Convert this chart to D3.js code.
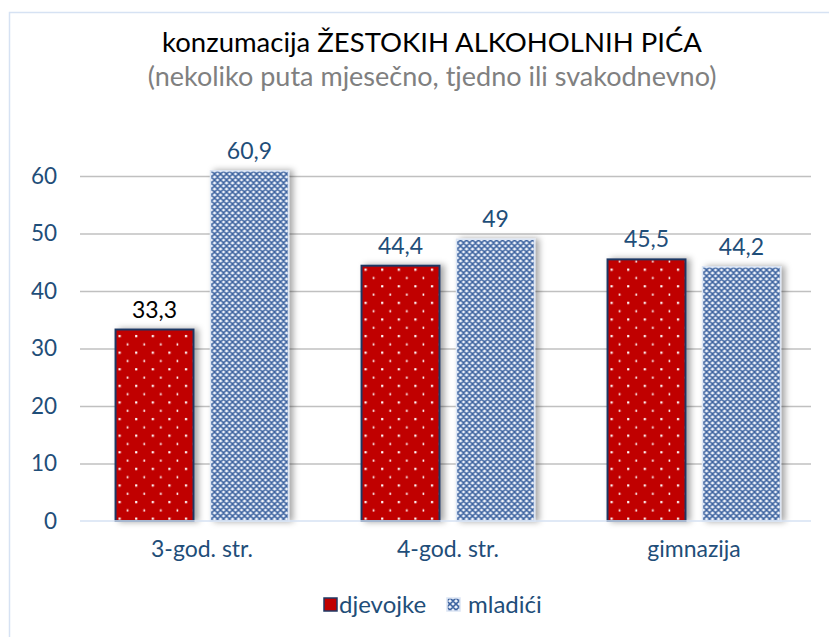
<!DOCTYPE html>
<html>
<head>
<meta charset="utf-8">
<script src="https://cdn.jsdelivr.net/npm/d3@7"></script>
<style>
  body { margin: 0; background: #fff; }
  text { font-family: Lato, "Open Sans", sans-serif; }
</style>
</head>
<body>
<script>
// data
const categories = ["3-god. str.", "4-god. str.", "gimnazija"];
const seriesNames = ["djevojke", "mladići"];
const djevojke = [33.3, 44.4, 45.5];
const mladici = [60.9, 49, 44.2];
const yTicks = [0, 10, 20, 30, 40, 50, 60];
const titleText = "konzumacija ŽESTOKIH ALKOHOLNIH PIĆA";
const subtitleText = "(nekoliko puta mjesečno, tjedno ili svakodnevno)";

const W = 829, H = 637;
const svg = d3.select("body").append("svg")
    .attr("width", W)
    .attr("height", H);

const defs = svg.append("defs");

// red with white dots
const pRed = defs.append("pattern")
    .attr("id", "dots")
    .attr("patternUnits", "userSpaceOnUse")
    .attr("width", 16.6).attr("height", 16.6);
pRed.append("rect").attr("width", 16.6).attr("height", 16.6).attr("fill", "#c00000");
pRed.append("rect").attr("x", 3).attr("y", 3).attr("width", 2.2).attr("height", 2.2).attr("fill", "#fff");
pRed.append("rect").attr("x", 11.3).attr("y", 11.3).attr("width", 1.6).attr("height", 2.2).attr("fill", "#fff");

// blue lattice
const pBlue = defs.append("pattern")
    .attr("id", "lattice")
    .attr("patternUnits", "userSpaceOnUse")
    .attr("width", 6).attr("height", 6);
pBlue.append("rect").attr("width", 6).attr("height", 6).attr("fill", "#eef2fa");
pBlue.append("path")
    .attr("d", "M0,3 L3,0 L6,3 L3,6 Z")
    .attr("fill", "none")
    .attr("stroke", "#3d63a0")
    .attr("stroke-width", 1.6);

// shadow
const f = defs.append("filter").attr("id", "shadow")
    .attr("x", "-20%").attr("y", "-10%").attr("width", "150%").attr("height", "120%");
f.append("feDropShadow")
    .attr("dx", 4).attr("dy", 0).attr("stdDeviation", 3)
    .attr("flood-color", "#000").attr("flood-opacity", 0.35);

// frame
svg.append("path")
    .attr("d", "M9.5," + H + " V12.5 H" + W)
    .attr("fill", "none")
    .attr("stroke", "#d6e2f3")
    .attr("stroke-width", 1.5);

// titles
svg.append("text")
    .attr("x", 432).attr("y", 52)
    .attr("text-anchor", "middle")
    .attr("font-size", 27.5)
    .attr("fill", "#000")
    .text(titleText);
svg.append("text")
    .attr("x", 432).attr("y", 86)
    .attr("text-anchor", "middle")
    .attr("font-size", 27)
    .attr("fill", "#808080")
    .text(subtitleText);

// scales
const x0 = d3.scaleBand().domain(categories).range([79, 817])
    .paddingInner(0.297).paddingOuter(0.1485);
const x1 = d3.scaleBand().domain(seriesNames).range([0, x0.bandwidth()])
    .paddingInner(0.179);
const y = d3.scaleLinear().domain([0, 60]).range([521, 176]);

// gridlines
svg.append("g")
    .attr("class", "grid")
    .attr("transform", "translate(80,0)")
    .call(d3.axisLeft(y).tickValues(yTicks.slice(1)).tickSize(-731).tickFormat(""))
    .call(g => g.select(".domain").remove())
    .call(g => g.selectAll("line").attr("stroke", "#c0c0c0").attr("stroke-width", 1.5));

// y tick labels
svg.append("g")
    .attr("transform", "translate(57,0)")
    .call(d3.axisLeft(y).tickValues(yTicks).tickSize(0).tickPadding(0))
    .call(g => g.select(".domain").remove())
    .call(g => g.selectAll("text")
        .attr("font-size", 22.5)
        .attr("fill", "#1f4e79")
        .attr("font-family", "Lato, sans-serif"));

// bars
const rows = categories.map((c, i) => ({ cat: c, vals: [djevojke[i], mladici[i]] }));
const groups = svg.append("g").selectAll("g")
    .data(rows)
    .join("g")
    .attr("transform", d => "translate(" + x0(d.cat) + ",0)");

groups.selectAll("rect")
    .data(d => d.vals.map((v, j) => ({ s: seriesNames[j], v: v })))
    .join("rect")
    .attr("x", d => x1(d.s))
    .attr("y", d => y(d.v))
    .attr("width", x1.bandwidth())
    .attr("height", d => y(0) - y(d.v))
    .attr("fill", d => d.s === "djevojke" ? "url(#dots)" : "url(#lattice)")
    .attr("stroke", d => d.s === "djevojke" ? "#1f3864" : "#dbe5f4")
    .attr("stroke-width", d => d.s === "djevojke" ? 2 : 1.5)
    .attr("filter", "url(#shadow)");

// value labels
groups.selectAll("text.val")
    .data(d => d.vals.map((v, j) => ({ s: seriesNames[j], v: v, first: d.cat === categories[0] && j === 0 })))
    .join("text")
    .attr("class", "val")
    .attr("x", d => x1(d.s) + x1.bandwidth() / 2)
    .attr("y", d => y(d.v) - 12)
    .attr("text-anchor", "middle")
    .attr("font-size", 23)
    .attr("fill", d => d.first ? "#000" : "#1f4e79")
    .text(d => String(d.v).replace(".", ","));

// x axis line
svg.append("line")
    .attr("x1", 80).attr("x2", 811)
    .attr("y1", y(0)).attr("y2", y(0))
    .attr("stroke", "#d6e2f3")
    .attr("stroke-width", 1.5);

// x labels
svg.append("g")
    .attr("transform", "translate(0," + y(0) + ")")
    .call(d3.axisBottom(x0).tickSize(0).tickPadding(20))
    .call(g => g.select(".domain").remove())
    .call(g => g.selectAll("text")
        .attr("font-size", 23)
        .attr("fill", "#1f4e79")
        .attr("font-family", "Lato, sans-serif"));

// legend
const legendX = [324, 447];
const legend = svg.append("g").selectAll("g")
    .data(seriesNames)
    .join("g")
    .attr("transform", (d, i) => "translate(" + legendX[i] + ",598)");
legend.append("rect")
    .attr("width", 13).attr("height", 13)
    .attr("fill", (d, i) => i === 0 ? "#c00000" : "url(#lattice)")
    .attr("stroke", (d, i) => i === 0 ? "#1f3864" : "#dbe5f4")
    .attr("stroke-width", 1.5);
legend.append("text")
    .attr("x", (d, i) => i === 0 ? 15 : 21)
    .attr("y", 15)
    .attr("font-size", 24)
    .attr("fill", "#1f4e79")
    .text(d => d);
</script>
</body>
</html>
